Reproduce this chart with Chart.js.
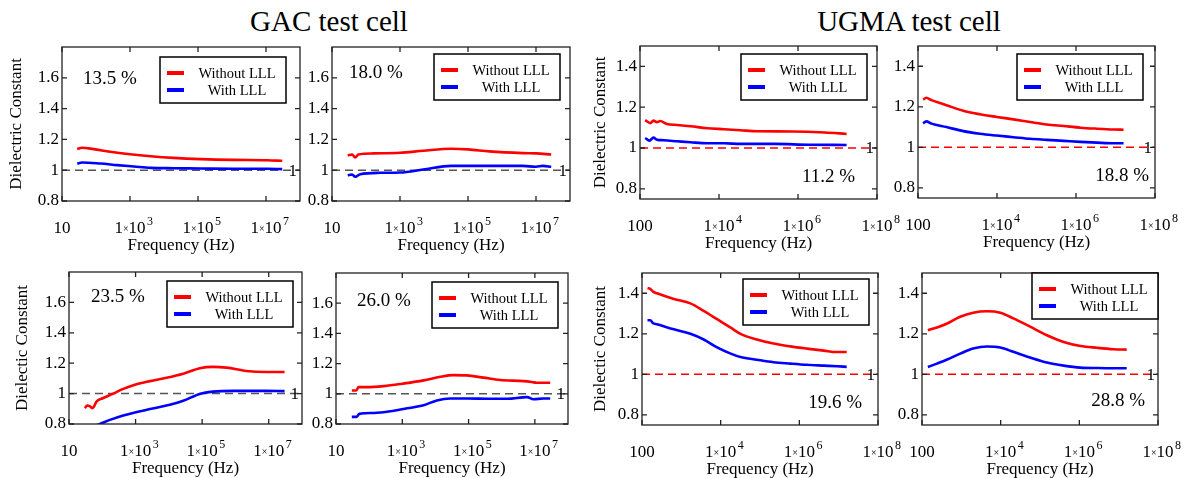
<!DOCTYPE html>
<html>
<head>
<meta charset="utf-8">
<script src="https://cdn.jsdelivr.net/npm/chart.js@4.4.1/dist/chart.umd.min.js"></script>
<style>
  body { margin: 0; background: #fff; }
  #page { position: relative; width: 1186px; height: 478px; overflow: hidden; background: #fff; }
  .head { position: absolute; top: 7px; width: 300px; text-align: center; font: 29px/29px 'Liberation Serif', 'Times New Roman', serif; color: #000; }
  canvas { position: absolute; }
</style>
</head>
<body>
<div id="page">
  <div class="head" style="left:179px">GAC test cell</div>
  <div class="head" style="left:759px">UGMA test cell</div>
</div>
<script>
// tick values
const gacFreqTicks = [10, 1e3, 1e5, 1e7];
const ugmaFreqTicks = [100, 1e4, 1e6, 1e8];
const gacDkTicks = [0.8, 1, 1.2, 1.4, 1.6];
const ugmaDkTicks = [0.8, 1, 1.2, 1.4];
const seriesNames = ['Without LLL', 'With LLL'];

// GAC 13.5 %
const g135RedHz = [28, 39, 85, 260, 1.0e3, 4.0e3, 1.9e4, 1.2e5, 1.1e6, 1.1e7, 3.0e7];
const g135Red = [1.137, 1.146, 1.137, 1.120, 1.104, 1.091, 1.080, 1.072, 1.067, 1.065, 1.061];
const g135BlueHz = [28, 39, 135, 420, 1.3e3, 4.0e3, 1.9e4, 1.2e5, 1.1e6, 1.1e7, 3.0e7];
const g135Blue = [1.043, 1.050, 1.043, 1.033, 1.024, 1.015, 1.013, 1.011, 1.009, 1.009, 1.007];

// GAC 18.0 %
const g180RedHz = [29, 39, 48, 60, 166, 1.0e3, 4.8e3, 3.2e4, 1.0e5, 4.3e5, 4.1e6, 1.0e7, 2.8e7];
const g180Red = [1.096, 1.102, 1.083, 1.102, 1.109, 1.113, 1.126, 1.139, 1.135, 1.122, 1.111, 1.109, 1.102];
const g180BlueHz = [29, 39, 48, 68, 257, 1.0e3, 4.8e3, 3.2e4, 1.0e5, 4.3e5, 4.1e6, 1.0e7, 1.6e7, 2.8e7];
const g180Blue = [0.967, 0.972, 0.957, 0.974, 0.983, 0.985, 1.004, 1.028, 1.028, 1.028, 1.028, 1.022, 1.028, 1.022];

// UGMA 11.2 %
const u112RedHz = [135, 182, 219, 269, 324, 479, 871, 1.9e3, 5.0e3, 1.35e4, 3.5e4, 9.5e4, 6.8e5, 4.8e6, 1.7e7];
const u112Red = [1.137, 1.122, 1.134, 1.127, 1.132, 1.118, 1.113, 1.107, 1.097, 1.092, 1.087, 1.082, 1.081, 1.076, 1.069];
const u112BlueHz = [135, 174, 219, 269, 398, 871, 1.9e3, 5.0e3, 1.35e4, 3.5e4, 2.5e5, 1.8e6, 1.7e7];
const u112Blue = [1.049, 1.036, 1.051, 1.041, 1.038, 1.033, 1.028, 1.023, 1.023, 1.020, 1.020, 1.016, 1.015];

// UGMA 18.8 %
const u188Hz = [135, 162, 219, 525, 1.4e3, 3.7e3, 9.8e3, 2.6e4, 6.9e4, 1.8e5, 4.9e5, 1.3e6, 3.4e6, 9.1e6, 1.6e7];
const u188Red = [1.235, 1.245, 1.233, 1.208, 1.180, 1.163, 1.150, 1.138, 1.125, 1.113, 1.105, 1.097, 1.092, 1.088, 1.087];
const u188Blue = [1.118, 1.128, 1.117, 1.100, 1.080, 1.067, 1.058, 1.050, 1.042, 1.037, 1.032, 1.027, 1.023, 1.020, 1.020];

// GAC 23.5 %
const g235RedHz = [30, 35, 43, 51, 68, 107, 214, 427, 955, 2.7e3, 8.5e3, 2.7e4, 8.5e4, 2.1e5, 5.4e5, 2.1e6, 8.5e6, 3.0e7];
const g235Red = [0.904, 0.922, 0.916, 0.904, 0.949, 0.971, 1.000, 1.031, 1.058, 1.082, 1.104, 1.131, 1.167, 1.176, 1.171, 1.149, 1.142, 1.142];
const g235BlueHz = [30, 85, 170, 427, 955, 2.7e3, 1.07e4, 2.7e4, 8.5e4, 2.1e5, 8.5e5, 8.5e6, 3.0e7];
const g235Blue = [0.760, 0.800, 0.827, 0.856, 0.876, 0.898, 0.927, 0.953, 0.998, 1.013, 1.018, 1.018, 1.016];

// GAC 26.0 %
const g260RedHz = [30, 41, 48, 85, 275, 1.0e3, 4.4e3, 1.4e4, 3.5e4, 8.9e4, 2.8e5, 8.9e5, 4.6e6, 8.1e6, 1.15e7, 2.9e7];
const g260Red = [1.022, 1.022, 1.044, 1.044, 1.051, 1.067, 1.089, 1.113, 1.124, 1.122, 1.107, 1.091, 1.084, 1.078, 1.073, 1.073];
const g260BlueHz = [30, 41, 51, 138, 437, 1.4e3, 4.4e3, 1.1e4, 2.8e4, 8.9e4, 4.5e5, 1.45e6, 5.8e6, 9.1e6, 1.8e7, 2.9e7];
const g260Blue = [0.847, 0.847, 0.867, 0.873, 0.884, 0.904, 0.924, 0.956, 0.969, 0.969, 0.967, 0.967, 0.978, 0.964, 0.969, 0.969];

// UGMA 19.6 %
const u196Hz = [138, 162, 191, 240, 646, 1.7e3, 3.7e3, 8.1e3, 1.8e4, 3.2e4, 8.3e4, 2.2e5, 5.9e5, 1.55e6, 4.2e6, 9.1e6, 1.6e7];
const u196Red = [1.425, 1.422, 1.408, 1.400, 1.372, 1.350, 1.313, 1.272, 1.230, 1.200, 1.172, 1.152, 1.138, 1.127, 1.117, 1.110, 1.110];
const u196Blue = [1.267, 1.267, 1.252, 1.247, 1.222, 1.200, 1.172, 1.133, 1.102, 1.085, 1.072, 1.060, 1.053, 1.047, 1.043, 1.040, 1.037];

// UGMA 28.8 %
const u288Hz = [141, 240, 437, 933, 2.0e3, 4.5e3, 9.8e3, 2.1e4, 5.6e4, 1.5e5, 4.0e5, 1.07e6, 2.8e6, 7.4e6, 1.6e7];
const u288Red = [1.218, 1.231, 1.251, 1.284, 1.304, 1.311, 1.304, 1.276, 1.235, 1.193, 1.160, 1.140, 1.131, 1.124, 1.122];
const u288Blue = [1.036, 1.053, 1.073, 1.102, 1.127, 1.137, 1.132, 1.111, 1.083, 1.058, 1.043, 1.033, 1.031, 1.030, 1.030];

const SERIF = "'Liberation Serif', 'Times New Roman', serif";
Chart.defaults.font.family = SERIF;
Chart.defaults.font.size = 17;
Chart.defaults.color = '#000';

const groups = {
  gac: { xMin: 10, xMax: 1e8, xTicks: gacFreqTicks, yMin: 0.8, yMax: 1.8, yTicks: gacDkTicks, refColor: '#555' },
  ugma: { xMin: 100, xMax: 1e8, xTicks: ugmaFreqTicks, yMin: 0.75, yMax: 1.5, yTicks: ugmaDkTicks, refColor: '#ff0000' }
};

// box = plot area [left, top, right, bottom] on the page
const panels = [
  { box: [62, 47, 300, 201], g: 'gac', red: [g135RedHz, g135Red], blue: [g135BlueHz, g135Blue],
    pct: '13.5 %', pctAt: ['left', 21, 32], leg: [14, 10], yTitle: 'Dielectric Constant', yPad: 6.8 },
  { box: [332, 47, 570, 201], g: 'gac', red: [g180RedHz, g180Red], blue: [g180BlueHz, g180Blue],
    pct: '18.0 %', pctAt: ['left', 17, 26], leg: [10, 7] },
  { box: [640, 46, 877, 199], g: 'ugma', red: [u112RedHz, u112Red], blue: [u112BlueHz, u112Blue],
    pct: '11.2 %', pctAt: ['right', 22, 131], leg: [10, 8], yTitle: 'Dielectric Constant', yPad: 12.8 },
  { box: [918, 46, 1155, 198], g: 'ugma', red: [u188Hz, u188Red], blue: [u188Hz, u188Blue],
    pct: '18.8 %', pctAt: ['right', 6, 130], leg: [12, 8] },
  { box: [69, 272, 302, 424], g: 'gac', red: [g235RedHz, g235Red], blue: [g235BlueHz, g235Blue],
    pct: '23.5 %', pctAt: ['left', 22, 25], leg: [9, 9], yTitle: 'Dielectic Constant', yPad: 5.3 },
  { box: [336, 273, 568, 424], g: 'gac', red: [g260RedHz, g260Red], blue: [g260BlueHz, g260Blue],
    pct: '26.0 %', pctAt: ['left', 21, 28], leg: [10, 9] },
  { box: [642, 273, 878, 425], g: 'ugma', red: [u196Hz, u196Red], blue: [u196Hz, u196Blue],
    pct: '19.6 %', pctAt: ['right', 16, 130], leg: [9, 6], yTitle: 'Dielectic Constant', yPad: 10.8 },
  { box: [922, 273, 1158, 425], g: 'ugma', red: [u288Hz, u288Red], blue: [u288Hz, u288Blue],
    pct: '28.8 %', pctAt: ['right', 13, 128], leg: [0, 0] }
];

const Y_W = 62, X_H = 58, PAD_T = 4, PAD_R = 30;

function drawFreqTick(ctx, v, px, base) {
  const exp = Math.round(Math.log10(v));
  ctx.textAlign = 'left';
  ctx.textBaseline = 'alphabetic';
  ctx.font = '17px ' + SERIF;
  if (exp < 3) {
    const w = ctx.measureText(String(v)).width;
    ctx.fillText(String(v), px - w / 2, base);
    return;
  }
  const w1 = ctx.measureText('1').width;
  const w10 = ctx.measureText('10').width;
  ctx.font = '10px ' + SERIF;
  const wx = ctx.measureText('\u00d7').width;
  const start = px - (w1 + wx + w10) / 2;
  ctx.fillText('\u00d7', start + w1, base - 1);
  ctx.font = '17px ' + SERIF;
  ctx.fillText('1', start, base);
  ctx.fillText('10', start + w1 + wx, base);
  ctx.font = '12px ' + SERIF;
  ctx.fillText(String(exp), start + w1 + wx + w10 + 1.5, base - 8);
}

const decor = {
  id: 'decor',
  afterDatasetsDraw(chart, args, o) {
    const { ctx, chartArea: a, scales: { x, y } } = chart;
    ctx.save();
    // frame with inward ticks
    ctx.strokeStyle = '#222';
    ctx.lineWidth = 1.3;
    ctx.strokeRect(a.left, a.top, a.right - a.left, a.bottom - a.top);
    ctx.beginPath();
    y.ticks.forEach(t => {
      const py = y.getPixelForValue(t.value);
      ctx.moveTo(a.left, py); ctx.lineTo(a.left + 5, py);
      ctx.moveTo(a.right, py); ctx.lineTo(a.right - 5, py);
    });
    x.ticks.forEach(t => {
      const px = x.getPixelForValue(t.value);
      ctx.moveTo(px, a.bottom); ctx.lineTo(px, a.bottom - 5);
      ctx.moveTo(px, a.top); ctx.lineTo(px, a.top + 5);
    });
    ctx.stroke();

    // frequency tick labels
    ctx.fillStyle = '#000';
    x.ticks.forEach(t => drawFreqTick(ctx, t.value, x.getPixelForValue(t.value), a.bottom + 31.5));

    // "1" at the reference line
    ctx.font = '17px ' + SERIF;
    ctx.textAlign = 'right';
    ctx.textBaseline = 'middle';
    ctx.fillText('1', a.right - 3, y.getPixelForValue(1) + 1);

    // moisture label
    ctx.font = '19px ' + SERIF;
    ctx.textAlign = o.pctAt[0];
    const px = o.pctAt[0] === 'left' ? a.left + o.pctAt[1] : a.right - o.pctAt[1];
    ctx.fillText(o.pct, px, a.top + o.pctAt[2]);

    // legend box
    const bw = 126, bh = 46;
    const bx = a.right - o.leg[0] - bw, by = a.top + o.leg[1];
    ctx.fillStyle = '#fff';
    ctx.fillRect(bx, by, bw, bh);
    ctx.strokeStyle = '#000';
    ctx.lineWidth = 1.5;
    ctx.strokeRect(bx, by, bw, bh);
    ctx.font = '14.5px ' + SERIF;
    ctx.textAlign = 'center';
    ctx.textBaseline = 'middle';
    chart.data.datasets.slice(0, 2).forEach((ds, i) => {
      const ly = by + 16 + i * 17;
      ctx.strokeStyle = ds.borderColor;
      ctx.lineWidth = 4;
      ctx.beginPath();
      ctx.moveTo(bx + 7, ly); ctx.lineTo(bx + 24, ly);
      ctx.stroke();
      ctx.fillStyle = '#000';
      ctx.fillText(ds.label, bx + 77, ly + 1);
    });
    ctx.restore();
  }
};

const page = document.getElementById('page');

panels.forEach(p => {
  const g = groups[p.g];
  const [x0, y0, x1, y1] = p.box;
  const cv = document.createElement('canvas');
  cv.width = (x1 - x0) + Y_W + PAD_R;
  cv.height = (y1 - y0) + PAD_T + X_H;
  cv.style.left = (x0 - Y_W) + 'px';
  cv.style.top = (y0 - PAD_T) + 'px';
  page.appendChild(cv);

  const pts = (hz, vals) => hz.map((f, i) => ({ x: f, y: vals[i] }));
  const line = (label, color, d) => ({
    label, data: d, borderColor: color, borderWidth: 2.6, pointRadius: 0,
    cubicInterpolationMode: 'monotone', fill: false
  });

  new Chart(cv, {
    type: 'line',
    data: {
      datasets: [
        line(seriesNames[0], '#ff0000', pts(p.red[0], p.red[1])),
        line(seriesNames[1], '#0000ff', pts(p.blue[0], p.blue[1])),
        { label: '', data: [{ x: g.xMin, y: 1 }, { x: g.xMax, y: 1 }], borderColor: g.refColor,
          borderWidth: 1.5, borderDash: [8, 5], pointRadius: 0, fill: false }
      ]
    },
    options: {
      responsive: false,
      animation: false,
      events: [],
      layout: { padding: { top: PAD_T, right: PAD_R, left: 0, bottom: 0 } },
      plugins: {
        legend: { display: false },
        tooltip: { enabled: false },
        decor: { pct: p.pct, pctAt: p.pctAt, leg: p.leg }
      },
      scales: {
        x: {
          type: 'logarithmic', min: g.xMin, max: g.xMax,
          afterBuildTicks: s => { s.ticks = g.xTicks.map(v => ({ value: v })); },
          afterFit: s => { s.height = X_H; s.paddingLeft = 0; s.paddingRight = 0; },
          ticks: { display: false },
          grid: { display: false, drawTicks: false },
          border: { display: false },
          title: { display: true, text: 'Frequency (Hz)', font: { size: 17 }, padding: { top: 0, bottom: 2.8 } }
        },
        y: {
          type: 'linear', min: g.yMin, max: g.yMax,
          afterBuildTicks: s => { s.ticks = g.yTicks.map(v => ({ value: v })); },
          afterFit: s => { s.width = Y_W; s.paddingTop = 0; s.paddingBottom = 0; },
          ticks: { padding: 3, font: { size: 17 }, callback: v => String(Number(v.toFixed(1))) },
          grid: { display: false, drawTicks: false },
          border: { display: false },
          title: { display: !!p.yTitle, text: p.yTitle || '', font: { size: 17 }, padding: { top: p.yPad || 0, bottom: 0 } }
        }
      }
    },
    plugins: [decor]
  });
});
</script>
</body>
</html>
